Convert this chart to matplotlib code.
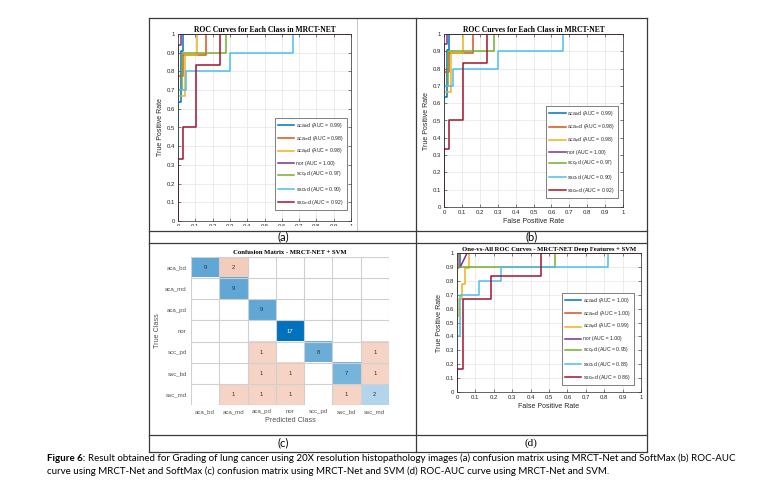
import matplotlib
matplotlib.use("Agg")
import matplotlib.pyplot as plt
import numpy as np
from matplotlib.lines import Line2D
from matplotlib.patches import Rectangle

plt.rcParams['font.family'] = ['Liberation Sans', 'DejaVu Sans']

# ---- data ----
classes = ['aca_bd', 'aca_md', 'aca_pd', 'nor', 'scc_pd', 'ssc_bd', 'ssc_md']
legend_names = ['aca$_b$d', 'aca$_m$d', 'aca$_p$d', 'nor', 'scc$_p$d', 'ssc$_b$d', 'ssc$_m$d']
colors = ['#0072BD', '#D95319', '#EDB120', '#7E2F8E', '#77AC30', '#4DBEEE', '#A2142F']

# ROC curves MRCT-Net + SoftMax (panels a and b)
softmax_fpr = [
    [0, 0, 0.017, 0.017, 0.03, 0.03, 1],
    [0, 0, 0.027, 0.027, 0.16, 0.16, 1],
    [0, 0, 0.04, 0.04, 0.107, 0.107, 1],
    [0, 0, 0.018, 0.018, 1],
    [0, 0, 0.025, 0.025, 0.277, 0.277, 1],
    [0, 0, 0.048, 0.048, 0.302, 0.302, 0.663, 0.663, 1],
    [0, 0, 0.027, 0.027, 0.104, 0.104, 0.241, 0.241, 1],
]
softmax_tpr = [
    [0, 0.636, 0.636, 0.909, 0.909, 1, 1],
    [0, 0.778, 0.778, 0.889, 0.889, 1, 1],
    [0, 0.667, 0.667, 0.889, 0.889, 1, 1],
    [0, 0.941, 0.941, 1, 1],
    [0, 0.7, 0.7, 0.9, 0.9, 1, 1],
    [0, 0.7, 0.7, 0.8, 0.8, 0.9, 0.9, 1, 1],
    [0, 0.333, 0.333, 0.5, 0.5, 0.833, 0.833, 1, 1],
]
auc_a = [0.99, 0.98, 0.98, 1.00, 0.97, 0.90, 0.92]
auc_b = [0.99, 0.98, 0.98, 1.00, 0.97, 0.90, 0.92]

# ROC curves MRCT-Net + SVM (panel d)
svm_fpr = [
    [0, 0, 0.018, 0.018, 1],
    [0, 0, 0.005, 0.005, 1],
    [0, 0, 0.013, 0.013, 0.027, 0.027, 0.045, 0.045, 0.063, 0.063, 1],
    [0, 0, 0.018, 0.055, 1],
    [0, 0, 0.533, 0.533, 1],
    [0, 0, 0.018, 0.018, 0.118, 0.118, 0.24, 0.24, 0.823, 0.823, 1],
    [0, 0, 0.032, 0.032, 0.184, 0.184, 0.458, 0.458, 1],
]
svm_tpr = [
    [0, 0.9, 0.9, 1, 1],
    [0, 0.9, 0.9, 1, 1],
    [0, 0.55, 0.55, 0.667, 0.667, 0.778, 0.778, 0.889, 0.889, 1, 1],
    [0, 0.889, 0.9, 1, 1],
    [0, 0.9, 0.9, 1, 1],
    [0, 0.4, 0.4, 0.7, 0.7, 0.8, 0.8, 0.9, 0.9, 1, 1],
    [0, 0.167, 0.167, 0.667, 0.667, 0.833, 0.833, 1, 1],
]
auc_d = [1.00, 1.00, 0.99, 1.00, 0.95, 0.88, 0.86]

# confusion matrix MRCT-Net + SVM (panel c)
cm_labels = ['aca_bd', 'aca_md', 'aca_pd', 'nor', 'scc_pd', 'ssc_bd', 'ssc_md']
cm = np.array([
    [9, 2, 0, 0, 0, 0, 0],
    [0, 9, 0, 0, 0, 0, 0],
    [0, 0, 9, 0, 0, 0, 0],
    [0, 0, 0, 17, 0, 0, 0],
    [0, 0, 1, 0, 8, 0, 1],
    [0, 0, 1, 1, 0, 7, 1],
    [0, 1, 1, 1, 0, 1, 2],
])

caption_bold = 'Figure 6:'
caption_1 = ('Result obtained for Grading of lung cancer using 20X resolution histopathology images '
             '(a) confusion matrix using MRCT-Net and SoftMax (b) ROC-AUC')
caption_2 = ('curve using MRCT-Net and SoftMax (c) confusion matrix using MRCT-Net and SVM '
             '(d) ROC-AUC curve using MRCT-Net and SVM.')

# ---- figure in pixel units ----
W, H = 779, 498
fig = plt.figure(figsize=(W / 100, H / 100), dpi=100)


def fx(x):
    return x / W


def fy(y):
    return 1 - y / H


def px_axes(x0, y0, x1, y1):
    return fig.add_axes([fx(x0), fy(y1), fx(x1) - fx(x0), fy(y0) - fy(y1)])


def line(xs, ys, c='#3a3a3a', lw=0.9):
    fig.add_artist(Line2D([fx(v) for v in xs], [fy(v) for v in ys],
                          color=c, lw=lw, transform=fig.transFigure))


def tick_fmt(t):
    if t == 0:
        return '0'
    if t == 1:
        return '1'
    return f'{t:.1f}'


def draw_roc(ax, fprs, tprs, aucs, title, leg_anchor, xlabel=True, title_size=5.5):
    for i in range(len(classes)):
        ax.plot(fprs[i], tprs[i], color=colors[i], lw=1.1,
                label=f'{legend_names[i]} (AUC = {aucs[i]:.2f})')
    ax.set_xlim(0, 1)
    ax.set_ylim(0, 1)
    ticks = np.round(np.arange(0, 1.01, 0.1), 1)
    ax.set_xticks(ticks)
    ax.set_yticks(ticks)
    ax.set_xticklabels([tick_fmt(t) for t in ticks])
    ax.set_yticklabels([tick_fmt(t) for t in ticks])
    ax.grid(True, color='#e4e4e4', lw=0.5)
    ax.set_axisbelow(True)
    ax.tick_params(direction='in', length=2, width=0.4, labelsize=4.3,
                   colors='#262626', top=True, right=True, pad=2)
    for s in ax.spines.values():
        s.set_linewidth(0.5)
        s.set_color('#262626')
    ax.set_title(title, fontsize=title_size, family='Liberation Serif',
                 fontweight='bold', pad=1.5)
    ax.set_ylabel('True Positive Rate', fontsize=5, color='#262626', labelpad=2)
    if xlabel:
        ax.set_xlabel('False Positive Rate', fontsize=5, color='#262626', labelpad=2)
    leg = ax.legend(loc='lower left', bbox_to_anchor=leg_anchor, fontsize=3.7,
                    handlelength=3.2, handletextpad=0.3, labelspacing=0.8,
                    borderpad=0.6, fancybox=False, framealpha=1,
                    edgecolor='#4d4d4d', borderaxespad=0)
    leg.get_frame().set_linewidth(0.5)
    for t in leg.get_texts():
        t.set_color('#262626')


# (a)
ax_a = px_axes(178, 34, 351, 221)
draw_roc(ax_a, softmax_fpr, softmax_tpr, auc_a, 'ROC Curves for Each Class in MRCT-NET',
         (0.56, 0.06), xlabel=False)

# (b)
ax_b = px_axes(444, 34, 623, 207)
draw_roc(ax_b, softmax_fpr, softmax_tpr, auc_b, 'ROC Curves for Each Class in MRCT-NET',
         (0.57, 0.05))

# (d)
ax_d = px_axes(457, 253, 641, 392)
draw_roc(ax_d, svm_fpr, svm_tpr, auc_d,
         'One-vs-All ROC Curves - MRCT-NET Deep Features + SVM', (0.57, 0.05),
         title_size=4.8)

# (c) confusion matrix
ax_c = px_axes(191, 257, 389, 405)
blue = np.array([0, 114, 189]) / 255
red = np.array([217, 83, 25]) / 255
rgb = np.ones(cm.shape + (3,))
vmax = cm.max()
for i in range(cm.shape[0]):
    for j in range(cm.shape[1]):
        v = cm[i, j]
        if v > 0:
            a = 0.2 + 0.8 * v / vmax
            base = blue if i == j else red
            rgb[i, j] = 1 - a * (1 - base)
ax_c.imshow(rgb, aspect='auto', interpolation='nearest')
for k in range(cm.shape[0] + 1):
    ax_c.axhline(k - 0.5, color='#d0d0d0', lw=0.8)
    ax_c.axvline(k - 0.5, color='#d0d0d0', lw=0.8)
for i in range(cm.shape[0]):
    for j in range(cm.shape[1]):
        v = cm[i, j]
        if v > 0:
            ax_c.add_patch(Rectangle((j - 0.5, i - 0.5), 1, 1, fill=False,
                                     edgecolor='#8c8c8c', lw=0.5))
            ax_c.text(j, i, str(v), ha='center', va='center', fontsize=4.2,
                      color='white' if v > 12 else '#333333')
ax_c.set_xticks(range(len(cm_labels)))
ax_c.set_yticks(range(len(cm_labels)))
ax_c.set_xticklabels(cm_labels)
ax_c.set_yticklabels(cm_labels)
ax_c.tick_params(length=0, labelsize=4.4, colors='#555555', pad=3)
for s in ax_c.spines.values():
    s.set_visible(False)
ax_c.set_xlabel('Predicted Class', fontsize=5.2, color='#555555', labelpad=2)
ax_c.set_ylabel('True Class', fontsize=5.2, color='#555555', labelpad=3)
ax_c.set_title('Confusion Matrix - MRCT-NET + SVM', fontsize=4.8,
               family='Liberation Serif', fontweight='bold', pad=2)

# cut off x tick labels of panel (a) as in the source
fig.add_artist(Rectangle((fx(152), fy(230.5)), fx(412) - fx(152), fy(225.5) - fy(230.5),
                         transform=fig.transFigure, facecolor='white', edgecolor='none'))

# table frame
line([357, 357], [18, 231], c='#bbbbbb', lw=0.6)
for x in [149, 416, 647]:
    line([x, x], [18, 452])
for y in [18, 231, 243, 435, 452]:
    line([149, 647], [y, y])

# panel letters
fig.text(fx(283), fy(237), '(a)', ha='center', va='center', fontsize=8, family='Lato')
fig.text(fx(532), fy(237), '(b)', ha='center', va='center', fontsize=8, family='Lato')
fig.text(fx(283), fy(443), '(c)', ha='center', va='center', fontsize=8, family='Lato')
fig.text(fx(531), fy(443), '(d)', ha='center', va='center', fontsize=8, family='Liberation Serif')

# caption
cap_size = 7.0
tb = fig.text(fx(47), fy(458), caption_bold, fontsize=cap_size, family='Lato',
              fontweight='bold', va='center')
fig.canvas.draw()
x_end = tb.get_window_extent().x1 / fig.bbox.width
fig.text(x_end + 0.004, fy(458), caption_1, fontsize=cap_size, family='Lato', va='center')
fig.text(fx(47), fy(471), caption_2, fontsize=cap_size, family='Lato', va='center')

fig.savefig('out.png', dpi=100)
